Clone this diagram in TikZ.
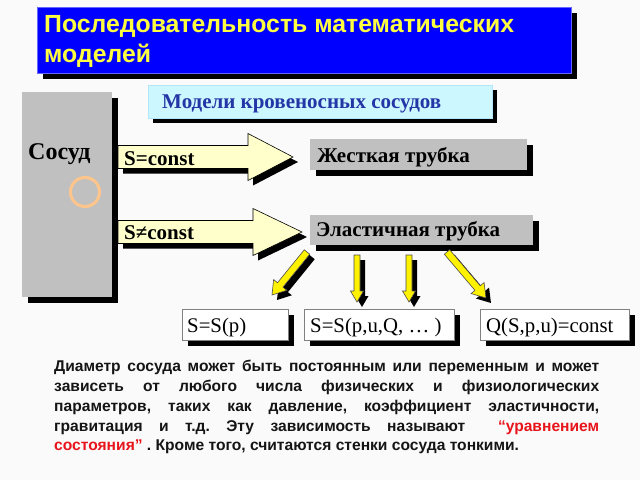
\documentclass[tikz,border=0pt]{standalone}
\usepackage{fontspec}
\setmainfont{Liberation Serif}
\newfontfamily\arialf{Liberation Sans}
\usetikzlibrary{shadows}
\definecolor{bg}{HTML}{FAFAFA}
\definecolor{titleblue}{HTML}{0000FF}
\definecolor{titleyellow}{HTML}{FFFF40}
\definecolor{cyanbox}{HTML}{CCF7FF}
\definecolor{modelblue}{HTML}{2436A6}
\definecolor{silverbox}{HTML}{C0C0C0}
\definecolor{paleyellow}{HTML}{FFFFCC}
\definecolor{ringorange}{HTML}{FFC58A}
\definecolor{textred}{HTML}{E8141C}
\definecolor{bodytext}{HTML}{151515}
\definecolor{framegray}{HTML}{808080}
\newcommand{\fatarr}[9]{%
  \pgfmathsetmacro\faang{atan2((#4)-(#2),(#3)-(#1))}%
  \pgfmathsetmacro\falen{veclen((#3)-(#1),(#4)-(#2))}%
  \pgfmathsetmacro\fabody{\falen-(#7)}%
  \begin{scope}[shift={(#1+#9,#2+#9)},rotate=-\faang]
    \fill[black] (0,-#5) -- (\fabody,-#5) -- (\fabody,-#6) -- (\falen,0) -- (\fabody,#6) -- (\fabody,#5) -- (0,#5) -- cycle;
  \end{scope}
  \begin{scope}[shift={(#1,#2)},rotate=-\faang]
    \filldraw[#8] (0,-#5) -- (\fabody,-#5) -- (\fabody,-#6) -- (\falen,0) -- (\fabody,#6) -- (\fabody,#5) -- (0,#5) -- cycle;
  \end{scope}}
\tikzset{
  boxbase/.style={anchor=north west, inner sep=0pt, outer sep=0pt},
  shadow6/.style={drop shadow={shadow xshift=6pt, shadow yshift=-6pt, opacity=1, fill=black}},
  shadow5/.style={drop shadow={shadow xshift=5pt, shadow yshift=-5pt, opacity=1, fill=black}},
  titlebox/.style={boxbase, fill=titleblue, draw=blue!60!white, line width=0.6pt, shadow6},
  cyanbox/.style={boxbase, fill=cyanbox, draw=cyan!30!white, line width=0.6pt, shadow5},
  graybox/.style={boxbase, fill=silverbox, shadow6},
  whitebox/.style={boxbase, fill=white, draw=framegray, line width=0.8pt, shadow6},
  bigarrow/.style={fill=paleyellow, draw=black, line width=0.6pt},
  smallarrow/.style={fill=yellow, draw=black!70, line width=0.6pt},
  serifbold/.style={anchor=base west, inner sep=0pt, font=\fontsize{21}{24}\selectfont\bfseries},
  serifreg/.style={anchor=base west, inner sep=0pt, font=\fontsize{20.8}{24}\selectfont},
  titletext/.style={anchor=base west, inner sep=0pt, text=titleyellow, font=\arialf\fontsize{24.8}{28}\selectfont\bfseries},
}
\begin{document}
\begin{tikzpicture}[x=1pt,y=-1pt]
\useasboundingbox (0,0) rectangle (640,480);
\fill[bg] (0,0) rectangle (640,480);
% title
\node[titlebox, minimum width=534pt, minimum height=66pt] (title) at (37,7) {};
\node[titletext] (t1) at (44,32) {Последовательность математических};
\node[titletext] (t2) at (44,62) {моделей};
% models box
\node[cyanbox, minimum width=344pt, minimum height=33pt] (models) at (148,85) {};
\node[serifbold, text=modelblue] (modelstext) at (162,108) {Модели кровеносных сосудов};
% vessel
\node[graybox, minimum width=90pt, minimum height=205pt] (vessel) at (22,92) {};
\node[serifbold, font=\fontsize{24}{28}\selectfont\bfseries] (vesseltext) at (28,159) {Сосуд};
\node[circle, draw=ringorange, line width=3pt, minimum size=29pt, inner sep=0pt] (ring) at (85,192) {};
% big arrows
\fatarr{118}{157}{293}{157}{11.5}{23.5}{45}{bigarrow}{5}
\fatarr{118}{232}{302}{232}{11.5}{23.5}{49}{bigarrow}{5}
\node[serifbold] (sconst) at (124,165) {S=const};
\node[serifbold] (snconst) at (124,239) {S≠const};
% tubes
\node[graybox, minimum width=217pt, minimum height=31pt] (rigid) at (310,139) {};
\node[serifbold] (rigidtext) at (317,162) {Жесткая трубка};
\node[graybox, minimum width=223pt, minimum height=30pt] (elastic) at (310,215) {};
\node[serifbold] (elastictext) at (316,236) {Эластичная трубка};
% small arrows
\fatarr{307}{252}{272}{295}{3.5}{8.5}{13}{smallarrow}{5}
\fatarr{357}{255}{357}{302}{3}{6.5}{11}{smallarrow}{5}
\fatarr{409}{255}{409}{302}{3}{6.5}{11}{smallarrow}{5}
\fatarr{447}{252}{486}{298}{3.5}{8.5}{13}{smallarrow}{5}
% bottom boxes
\node[whitebox, minimum width=106pt, minimum height=31pt] (b1) at (182,309) {};
\node[serifreg] (b1text) at (187,332) {S=S(p)};
\node[whitebox, minimum width=150pt, minimum height=31pt] (b2) at (304,309) {};
\node[serifreg] (b2text) at (310,332) {S=S(p,u,Q, … )};
\node[whitebox, minimum width=149pt, minimum height=31pt] (b3) at (480,309) {};
\node[serifreg] (b3text) at (486,332) {Q(S,p,u)=const};
% paragraph
\node[anchor=north west, inner sep=0pt, text width=545pt, align=justify, text=bodytext,
      font=\arialf\fontsize{15.6}{19.8}\selectfont\bfseries] (para) at (54,360)
 {\hyphenpenalty=10000\frenchspacing Диаметр сосуда может быть постоянным или переменным и может\linebreak
  зависеть от любого числа физических и физиологических\linebreak
  параметров, таких как давление, коэффициент эластичности,\linebreak
  гравитация и т.д. Эту зависимость называют \ {\color{textred}“уравнением}\linebreak
  {\color{textred}состояния”} . Кроме того, считаются стенки сосуда тонкими.};
\end{tikzpicture}
\end{document}
